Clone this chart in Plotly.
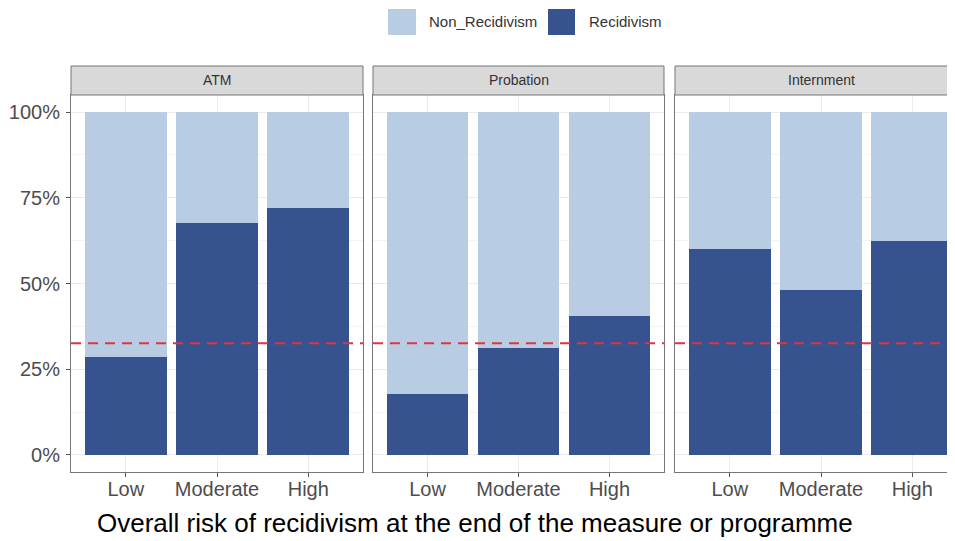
import plotly.graph_objects as go
from plotly.subplots import make_subplots

measures = ["ATM", "Probation", "Internment"]
risk_levels = ["Low", "Moderate", "High"]
recidivism = {
    "ATM": [0.286, 0.676, 0.720],
    "Probation": [0.178, 0.312, 0.405],
    "Internment": [0.600, 0.481, 0.624],
}
non_recidivism = {
    "ATM": [0.714, 0.324, 0.280],
    "Probation": [0.822, 0.688, 0.595],
    "Internment": [0.400, 0.519, 0.376],
}
overall_rate = 0.326
series_names = ["Non_Recidivism", "Recidivism"]
y_ticks = [0, 0.25, 0.5, 0.75, 1.0]
y_ticktext = ["0%", "25%", "50%", "75%", "100%"]

# page has an 8px body margin; compensate so the figure lines up with the window
OFF = 8
W, H = 955 - OFF, 541 - OFF
LIGHT = "#b8cce4"
DARK = "#36538f"
FONT = "Liberation Sans, Arial, sans-serif"


def px(x):
    return (x - OFF) / W


def py(y):
    return 1 - (y - OFF) / H


fig = make_subplots(rows=1, cols=3, shared_yaxes=True, horizontal_spacing=0.01)

for i, m in enumerate(measures):
    fig.add_trace(go.Bar(x=risk_levels, y=recidivism[m], name=series_names[1],
                         marker=dict(color=DARK, line=dict(width=0)), width=0.9,
                         showlegend=False), row=1, col=i + 1)
    fig.add_trace(go.Bar(x=risk_levels, y=non_recidivism[m], name=series_names[0],
                         marker=dict(color=LIGHT, line=dict(width=0)), width=0.9,
                         showlegend=False), row=1, col=i + 1)

panels_px = [(71, 363), (373, 664), (675, 967)]
top_px, bot_px = 95, 472
strip_top = 66
ydom = [py(bot_px), py(top_px)]

for i, (a, b) in enumerate(panels_px):
    right = min(b, 955)
    unit = (b - a) / 3.2
    xr_hi = 2.6 - (b - right) / unit
    ax = "xaxis" if i == 0 else f"xaxis{i+1}"
    fig.layout[ax].update(domain=[px(a), min(px(right), 1.0)], type="category",
                          categoryorder="array", categoryarray=risk_levels,
                          range=[-0.6, xr_hi], showgrid=True, gridcolor="#ebebeb",
                          gridwidth=1, ticks="outside", ticklen=4, tickcolor="#555",
                          tickfont=dict(family=FONT, size=20, color="#4d4d4d"),
                          ticklabelstandoff=-5,
                          showline=True, mirror=True, linecolor="#777", linewidth=1,
                          zeroline=False, fixedrange=True)
    ay = "yaxis" if i == 0 else f"yaxis{i+1}"
    fig.layout[ay].update(domain=ydom, range=[-0.05, 1.05], tickvals=y_ticks,
                          ticktext=y_ticktext, showgrid=True, gridcolor="#ebebeb",
                          gridwidth=1, minor=dict(dtick=0.125, tick0=0.125, showgrid=True,
                                                  gridcolor="#f4f4f4", gridwidth=1),
                          ticks="outside" if i == 0 else "", ticklen=4, tickcolor="#555",
                          showticklabels=(i == 0),
                          tickfont=dict(family=FONT, size=20, color="#4d4d4d"),
                          ticklabelstandoff=2,
                          showline=True, mirror=True, linecolor="#777", linewidth=1,
                          zeroline=False, fixedrange=True)
    fig.add_shape(type="rect", xref="paper", yref="paper", x0=px(a),
                  x1=px(right) + (0.01 if b > 955 else 0),
                  y0=py(top_px), y1=py(strip_top), fillcolor="#d9d9d9",
                  line=dict(color="#777", width=1), layer="above")
    fig.add_annotation(xref="paper", yref="paper", x=px((a + b) / 2), y=py((strip_top + top_px) / 2),
                       text=measures[i], showarrow=False, xanchor="center", yanchor="middle",
                       font=dict(family=FONT, size=14, color="#333333"))
    xa = "x" if i == 0 else f"x{i+1}"
    ya = "y" if i == 0 else f"y{i+1}"
    fig.add_shape(type="line", xref=f"{xa} domain", yref=ya, x0=0, x1=1,
                  y0=overall_rate, y1=overall_rate,
                  line=dict(color="#e0343f", width=2, dash="10px,7px"), layer="above")

leg = [(388, 416, LIGHT, 427, series_names[0]), (548, 575, DARK, 587, series_names[1])]
for x0, x1, col, tx, label in leg:
    fig.add_shape(type="rect", xref="paper", yref="paper", x0=px(x0), x1=px(x1),
                  y0=py(35), y1=py(9), fillcolor=col, line=dict(width=0))
    fig.add_annotation(xref="paper", yref="paper", x=px(tx), y=py(22), text=label,
                       showarrow=False, xanchor="left", yanchor="middle",
                       font=dict(family=FONT, size=15, color="#333333"))

fig.add_annotation(xref="paper", yref="paper", x=px(475), y=py(523),
                   text="Overall risk of recidivism at the end of the measure or programme",
                   showarrow=False, xanchor="center", yanchor="middle",
                   font=dict(family=FONT, size=26, color="#000000"))

fig.update_layout(width=W, height=H, barmode="stack", bargap=0.1,
                  margin=dict(l=0, r=0, t=0, b=0), plot_bgcolor="white",
                  paper_bgcolor="white", showlegend=False)

fig.write_html("out.html")
